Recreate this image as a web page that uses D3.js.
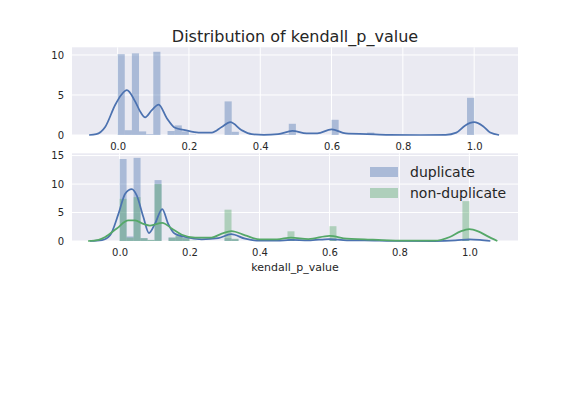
<!DOCTYPE html>
<html>
<head>
<meta charset="utf-8">
<script src="https://cdn.jsdelivr.net/npm/d3@7"></script>
<style>
  body { margin: 0; background: #fff; }
  text { font-family: "DejaVu Sans", sans-serif; fill: #262626; }
</style>
</head>
<body>
<svg id="chart" width="576" height="396"></svg>
<script>
// histogram bins: 50 bins of width 0.02 over [0, 1]
var binWidth = 0.02;
var binStarts = d3.range(50).map(function (i) { return i * binWidth; });

// top panel: all values
var allCounts = [10.1, 0.6, 10.2, 0.45, 0.1, 10.4, 0, 0.5, 1.2, 0.45,
                 0.05, 0, 0, 0, 0, 4.2, 0.4, 0, 0, 0,
                 0, 0.1, 0.1, 0.1, 1.4, 0, 0, 0, 0, 0,
                 1.9, 0, 0, 0, 0, 0.3, 0, 0, 0, 0,
                 0, 0, 0, 0, 0, 0, 0, 0, 0, 4.65];

// bottom panel: duplicate / non-duplicate
var dupCounts = [14.4, 0.8, 14.6, 0.5, 0.15, 10.7, 0, 0.6, 0.8, 0.5,
                 0, 0, 0, 0, 0, 0.5, 0.3, 0, 0, 0,
                 0, 0.05, 0.05, 0.05, 0.3, 0, 0, 0, 0, 0,
                 0.4, 0, 0, 0, 0, 0.1, 0, 0, 0, 0,
                 0, 0, 0, 0, 0, 0, 0, 0, 0, 0.3];
var nonDupCounts = [7.4, 0.6, 7.7, 0.5, 0.2, 10.0, 0, 0.6, 1.2, 0.5,
                    0.05, 0, 0, 0, 0, 5.5, 0.4, 0, 0, 0,
                    0, 0.1, 0.1, 0.1, 1.7, 0, 0, 0, 0, 0,
                    2.6, 0, 0, 0, 0, 0.3, 0, 0, 0, 0,
                    0, 0, 0, 0, 0, 0, 0, 0, 0, 7.0];

// kde curves: [x, density]
var allKde = [[-0.08, 0], [-0.06, 0.1], [-0.035, 1.0], [-0.007, 3.75], [0.01, 5.0],
              [0.026, 5.6], [0.049, 4.2], [0.065, 2.8], [0.077, 2.2], [0.096, 3.1],
              [0.115, 3.8], [0.138, 2.1], [0.161, 0.9], [0.189, 0.6], [0.227, 0.3],
              [0.264, 0.3], [0.292, 1.0], [0.316, 1.6], [0.348, 0.6], [0.376, 0.1],
              [0.41, 0.02], [0.45, 0.1], [0.49, 0.5], [0.53, 0.2], [0.56, 0.2],
              [0.60, 0.7], [0.64, 0.2], [0.70, 0.12], [0.76, 0.03], [0.85, 0],
              [0.92, 0.02], [0.95, 0.3], [0.975, 1.2], [1.0, 1.6], [1.025, 1.1],
              [1.045, 0.3], [1.07, 0]];
var dupKde = [[-0.085, 0], [-0.05, 0.15], [-0.027, 1.0], [-0.003, 4.8], [0.016, 8.3],
              [0.035, 9.1], [0.049, 8.0], [0.068, 4.2], [0.084, 1.4], [0.101, 3.0],
              [0.122, 5.6], [0.139, 3.0], [0.157, 1.3], [0.187, 0.7], [0.235, 0.3],
              [0.282, 0.5], [0.319, 1.2], [0.359, 0.4], [0.40, 0.05], [0.45, 0.05],
              [0.49, 0.2], [0.54, 0.1], [0.60, 0.35], [0.65, 0.1], [0.70, 0.1],
              [0.78, 0.02], [0.90, 0], [0.96, 0.1], [1.0, 0.3], [1.03, 0.2], [1.06, 0]];
var nonDupKde = [[-0.09, 0], [-0.06, 0.2], [-0.041, 0.7], [-0.008, 2.2], [0.025, 3.6],
                 [0.044, 3.6], [0.068, 3.0], [0.087, 2.7], [0.122, 3.2], [0.149, 2.2],
                 [0.178, 1.1], [0.216, 0.6], [0.263, 0.6], [0.292, 1.3], [0.32, 1.75],
                 [0.359, 1.0], [0.40, 0.3], [0.45, 0.3], [0.49, 0.6], [0.54, 0.35],
                 [0.60, 0.9], [0.65, 0.4], [0.70, 0.3], [0.75, 0.15], [0.82, 0.05],
                 [0.90, 0.05], [0.944, 0.7], [0.975, 1.7], [1.0, 2.1], [1.025, 1.7],
                 [1.05, 0.9], [1.08, 0]];

var xTicks = [0.0, 0.2, 0.4, 0.6, 0.8, 1.0];
var topYTicks = [0, 5, 10];
var bottomYTicks = [0, 5, 10, 15];
var seriesNames = ["duplicate", "non-duplicate"];

var blue = "#4C72B0", green = "#55A868";

var svg = d3.select("#chart");
var left = 72, right = 518;

function panel(top, bottom, xDomain, yMax, yTicks) {
    var x = d3.scaleLinear().domain(xDomain).range([left, right]);
    var y = d3.scaleLinear().domain([0, yMax]).range([bottom, top]);
    var g = svg.append("g");

    g.append("rect")
        .attr("x", left).attr("y", top)
        .attr("width", right - left).attr("height", bottom - top)
        .attr("fill", "#EAEAF2");

    g.selectAll("line.gx").data(xTicks).enter().append("line")
        .attr("x1", function (d) { return x(d); })
        .attr("x2", function (d) { return x(d); })
        .attr("y1", top).attr("y2", bottom)
        .attr("stroke", "#fff").attr("stroke-width", 1);
    g.selectAll("line.gy").data(yTicks).enter().append("line")
        .attr("x1", left).attr("x2", right)
        .attr("y1", function (d) { return y(d); })
        .attr("y2", function (d) { return y(d); })
        .attr("stroke", "#fff").attr("stroke-width", 1);

    var xAxis = d3.axisBottom(x).tickValues(xTicks).tickFormat(d3.format(".1f"))
        .tickSize(0).tickPadding(8);
    g.append("g").attr("transform", "translate(0," + bottom + ")").call(xAxis)
        .call(function (a) { a.select(".domain").remove(); })
        .selectAll("text").style("font-size", "10px").attr("fill", "#262626");

    var yAxis = d3.axisLeft(y).tickValues(yTicks).tickSize(0).tickPadding(8);
    g.append("g").attr("transform", "translate(" + left + ",0)").call(yAxis)
        .call(function (a) { a.select(".domain").remove(); })
        .selectAll("text").style("font-size", "10px").attr("fill", "#262626");

    return { g: g, x: x, y: y };
}

function bars(p, counts, color) {
    p.g.selectAll(null).data(counts).enter().append("rect")
        .attr("x", function (d, i) { return p.x(binStarts[i]); })
        .attr("width", function (d, i) { return p.x(binStarts[i] + binWidth) - p.x(binStarts[i]); })
        .attr("y", function (d) { return p.y(d); })
        .attr("height", function (d) { return p.y(0) - p.y(d); })
        .attr("fill", color).attr("fill-opacity", 0.4);
}

function kde(p, pts, color) {
    var line = d3.line()
        .x(function (d) { return p.x(d[0]); })
        .y(function (d) { return p.y(d[1]); })
        .curve(d3.curveMonotoneX);
    p.g.append("path").datum(pts)
        .attr("d", line)
        .attr("fill", "none").attr("stroke", color)
        .attr("stroke-width", 1.75);
}

var topP = panel(47.3, 135, [-0.128, 1.123], 10.96, topYTicks);
bars(topP, allCounts, blue);
kde(topP, allKde, blue);

var botP = panel(153.3, 241, [-0.136, 1.139], 15.4, bottomYTicks);
bars(botP, dupCounts, blue);
bars(botP, nonDupCounts, green);
kde(botP, dupKde, blue);
kde(botP, nonDupKde, green);

svg.append("text")
    .attr("x", (left + right) / 2).attr("y", 42)
    .attr("text-anchor", "middle")
    .style("font-size", "16px")
    .text("Distribution of kendall_p_value");

svg.append("text")
    .attr("x", (left + right) / 2).attr("y", 271)
    .attr("text-anchor", "middle")
    .style("font-size", "11px")
    .text("kendall_p_value");

var legend = svg.append("g");
var legendColors = [blue, green];
seriesNames.forEach(function (name, i) {
    var yy = 167 + i * 21;
    legend.append("rect")
        .attr("x", 370).attr("y", yy)
        .attr("width", 28).attr("height", 10)
        .attr("fill", legendColors[i]).attr("fill-opacity", 0.4);
    legend.append("text")
        .attr("x", 410).attr("y", yy + 10)
        .style("font-size", "14px")
        .text(name);
});
</script>
</body>
</html>
